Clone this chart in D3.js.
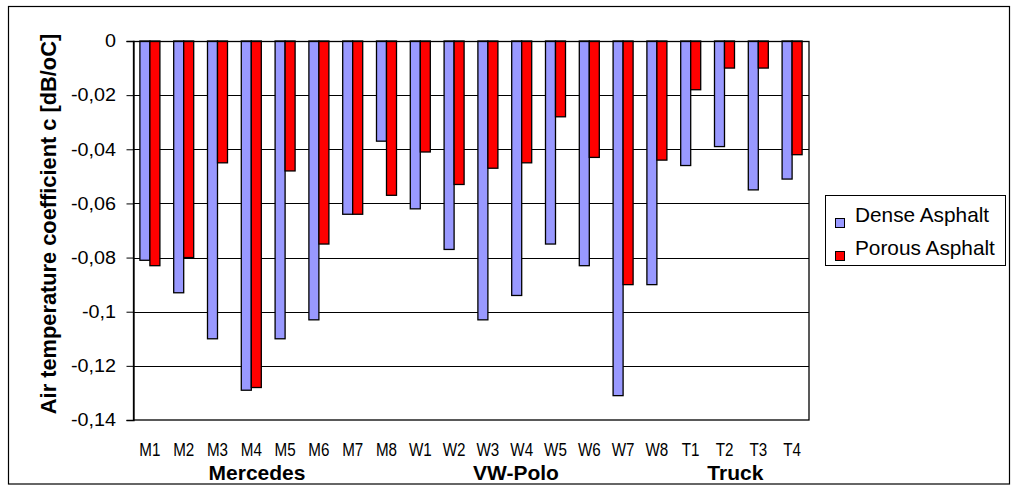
<!DOCTYPE html>
<html>
<head>
<meta charset="utf-8">
<script src="https://cdn.jsdelivr.net/npm/d3@7"></script>
<style>
  html, body { margin: 0; padding: 0; background: #fff; }
  svg { display: block; font-family: "Liberation Sans", Arial, sans-serif; }
</style>
</head>
<body>
<svg id="chart" width="1011" height="485"></svg>
<script>
// ---- data ----
const categories = ["M1","M2","M3","M4","M5","M6","M7","M8","W1","W2","W3","W4","W5","W6","W7","W8","T1","T2","T3","T4"];
const seriesNames = ["Dense Asphalt", "Porous Asphalt"];
const denseAsphalt  = [-0.081,-0.093,-0.110,-0.129,-0.110,-0.103,-0.064,-0.037,-0.062,-0.077,-0.103,-0.094,-0.075,-0.083,-0.131,-0.090,-0.046,-0.039,-0.055,-0.051];
const porousAsphalt = [-0.083,-0.080,-0.045,-0.128,-0.048,-0.075,-0.064,-0.057,-0.041,-0.053,-0.047,-0.045,-0.028,-0.043,-0.090,-0.044,-0.018,-0.010,-0.010,-0.042];
const yTicks = [0,-0.02,-0.04,-0.06,-0.08,-0.1,-0.12,-0.14];
const yTickLabels = ["0","-0,02","-0,04","-0,06","-0,08","-0,1","-0,12","-0,14"];
const groupNames = ["Mercedes","VW-Polo","Truck"];
const groupAnchorCats = ["M4","W4","T2"];
const groupAnchorFrac = [0.67, 0.33, 0.82];
const yTitle = "Air temperature coefficient c [dB/oC]";
const colors = ["#9999FF", "#FF0000"];

// ---- layout ----
const svg = d3.select("#chart");
const plot = {left: 133, right: 809, top: 41, bottom: 420};

const x = d3.scaleBand().domain(categories).range([plot.left, plot.right])
  .paddingInner(0.408).paddingOuter(0.204);
const xs = d3.scaleBand().domain(seriesNames).range([0, x.bandwidth()]).padding(0);
const y = d3.scaleLinear().domain([-0.14, 0]).range([plot.bottom, plot.top]);

function stretchedText(g, tx, ty, str, size, sx, anchor, weight) {
  return g.append("text")
    .attr("transform", `translate(${tx},${ty}) scale(${sx},1)`)
    .attr("text-anchor", anchor)
    .attr("font-size", size)
    .attr("font-weight", weight || "normal")
    .attr("fill", "#000")
    .text(str);
}

// outer border
svg.append("rect").attr("x", 8.5).attr("y", 6.5).attr("width", 1001).attr("height", 477.5)
  .attr("fill", "#fff").attr("stroke", "#000").attr("stroke-width", 1.2);

// gridlines
svg.append("g").selectAll("line").data(yTicks.filter(d => d !== 0 && d !== -0.14)).join("line")
  .attr("x1", plot.left).attr("x2", plot.right)
  .attr("y1", d => Math.round(y(d)) + 0.5).attr("y2", d => Math.round(y(d)) + 0.5)
  .attr("stroke", "#000").attr("stroke-width", 1);

// bars
const data = categories.map((c, i) => ({cat: c, vals: [denseAsphalt[i], porousAsphalt[i]]}));
const barG = svg.append("g");
data.forEach(d => {
  d.vals.forEach((v, j) => {
    barG.append("rect")
      .attr("x", x(d.cat) + xs(seriesNames[j]))
      .attr("y", y(0))
      .attr("width", xs.bandwidth())
      .attr("height", y(v) - y(0))
      .attr("fill", colors[j])
      .attr("stroke", "#000").attr("stroke-width", 1.3);
  });
});

// plot border
svg.append("rect").attr("x", plot.left + 0.5).attr("y", plot.top + 0.5)
  .attr("width", plot.right - plot.left - 0.5).attr("height", plot.bottom - plot.top - 0.5)
  .attr("fill", "none").attr("stroke", "#000").attr("stroke-width", 1.3);

// y axis ticks (outside)
const yAxis = d3.axisLeft(y).tickValues(yTicks).tickSize(7).tickFormat("");
const yAxisG = svg.append("g").attr("transform", `translate(${plot.left + 0.5},0)`).call(yAxis);
yAxisG.select(".domain").attr("stroke", "#000").attr("stroke-width", 1.3);
yAxisG.selectAll(".tick line").attr("stroke", "#000");

// y tick labels
const yl = svg.append("g");
yTicks.forEach((t, i) => {
  stretchedText(yl, 116, y(t) + 6.3, yTickLabels[i], 17.5, 1.13, "end");
});

// x tick labels
const xl = svg.append("g");
categories.forEach(c => {
  stretchedText(xl, x(c) + x.bandwidth() / 2, 456, c, 19, 0.8, "middle");
});

// group labels
const gl = svg.append("g");
groupNames.forEach((g, i) => {
  const cx = x(groupAnchorCats[i]) - x.step() * x.paddingInner() / 2 + x.step() * groupAnchorFrac[i];
  stretchedText(gl, cx, 479.5, g, 20, 1.05, "middle", "bold");
});

// y title
svg.append("text")
  .attr("transform", `translate(56,224) rotate(-90)`)
  .attr("text-anchor", "middle")
  .attr("font-size", 21.8).attr("font-weight", "bold")
  .text(yTitle);

// legend
const lg = svg.append("g");
lg.append("rect").attr("x", 825.5).attr("y", 195.5).attr("width", 180).attr("height", 70)
  .attr("fill", "#fff").attr("stroke", "#000").attr("stroke-width", 1);
seriesNames.forEach((s, i) => {
  const by = 222 + i * 33;
  lg.append("rect").attr("x", 835.5).attr("y", by - 3.5).attr("width", 9).attr("height", 9)
    .attr("fill", colors[i]).attr("stroke", "#000").attr("stroke-width", 1);
  stretchedText(lg, 855, by, s, 20.8, 1.0, "start");
});
</script>
</body>
</html>
